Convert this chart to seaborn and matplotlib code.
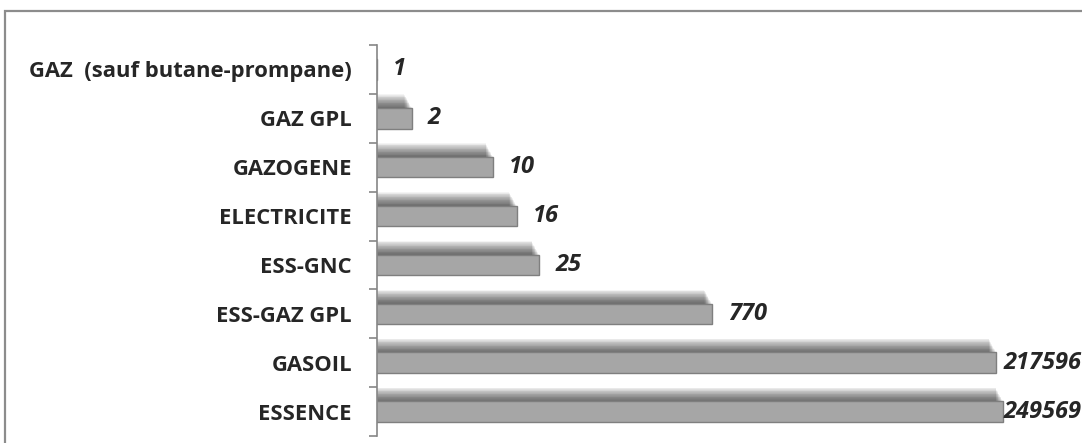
import matplotlib
matplotlib.use("Agg")
import matplotlib.pyplot as plt
import matplotlib.patheffects as pe
from matplotlib.patches import Rectangle
from matplotlib.ticker import FixedLocator, NullFormatter, NullLocator
import seaborn as sns

categories = ["GAZ  (sauf butane-prompane)", "GAZ GPL", "GAZOGENE", "ELECTRICITE",
              "ESS-GNC", "ESS-GAZ GPL", "GASOIL", "ESSENCE"]
values = [1, 2, 10, 16, 25, 770, 217596, 249569]

sns.set_style("white")
plt.rcParams["font.family"] = ["Open Sans", "DejaVu Sans"]

W, H = 1082, 443
fig = plt.figure(figsize=(W / 100, H / 100), dpi=100)
fig.patches.append(Rectangle((5 / W, -0.2), 1.2, (H - 11) / H + 0.2, transform=fig.transFigure,
                             fill=False, edgecolor="#8c8c8c", lw=1.6))
ax = fig.add_axes([377 / W, 7 / H, (1073 - 377) / W, (436 - 45) / H])

sns.barplot(x=values, y=categories, orient="h", ax=ax, color="#a6a6a6",
            edgecolor="#7f7f7f", linewidth=1.0, width=0.42, saturation=1)
ax.set_xscale("log")
ax.set_xlim(1, 1e6)
ax.set_ylim(7.5, -0.5)

# soft shadow above each bar
shadow = [pe.SimplePatchShadow(offset=(-0.3 * k, 0.55 * k), shadow_rgbFace="black", alpha=0.045)
          for k in range(1, 19)] + [pe.Normal()]
for p in ax.patches:
    p.set_path_effects(shadow)

for s in ["top", "right", "bottom"]:
    ax.spines[s].set_visible(False)
ax.spines["left"].set_color("#868686")
ax.spines["left"].set_linewidth(1.2)
ax.xaxis.set_major_locator(NullLocator())
ax.xaxis.set_minor_locator(NullLocator())
ax.set_xlabel(""); ax.set_ylabel("")
ax.yaxis.set_minor_locator(FixedLocator([i - 0.5 for i in range(len(categories) + 1)]))
ax.yaxis.set_minor_formatter(NullFormatter())
ax.tick_params(axis="y", which="major", length=0, pad=18, labelsize=15.8)
ax.tick_params(axis="y", which="minor", length=6, width=1.2, color="#868686", left=True)
for t in ax.get_yticklabels():
    t.set_fontweight("bold")

labels = []
for i, v in enumerate(values):
    labels.append(ax.annotate(f"{v}", xy=(v, i), xytext=(11.5, 0), textcoords="offset points",
                              ha="left", va="center", fontsize=17, fontweight="bold",
                              fontstyle="italic", annotation_clip=False))

# keep labels inside the picture, as the original chart does
fig.canvas.draw()
r = fig.canvas.get_renderer()
for t in labels:
    bb = t.get_window_extent(r)
    if bb.x1 > W:
        x, y = t.get_position()
        t.set_position((x - (bb.x1 - W) * 72 / 100, y))

fig.savefig("out.png", dpi=100)
